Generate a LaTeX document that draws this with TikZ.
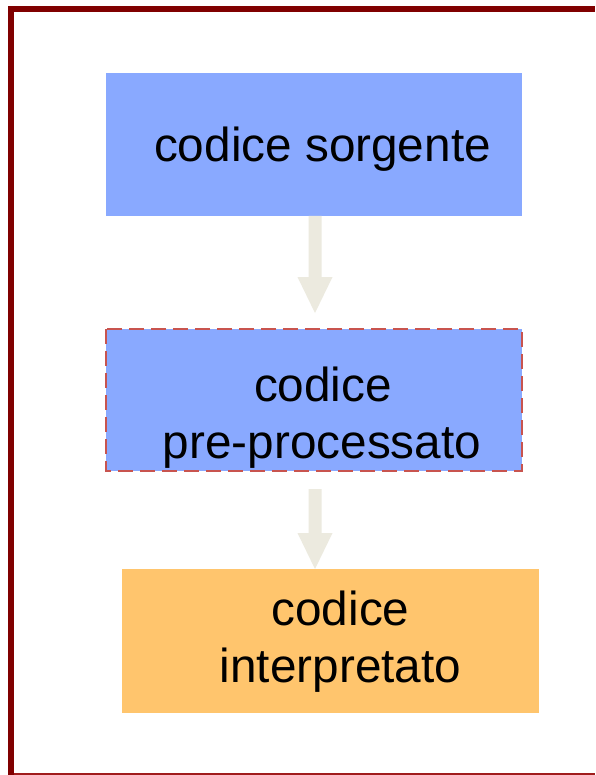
\documentclass[tikz,border=0pt]{standalone}
\usepackage{fontspec}
\setmainfont{Liberation Sans}
\definecolor{frame}{HTML}{800000}
\definecolor{frameb}{HTML}{A01C1C}
\definecolor{boxblue}{HTML}{89A9FF}
\definecolor{boxorange}{HTML}{FFC56D}
\definecolor{dashred}{HTML}{C8544F}
\definecolor{arrowfill}{HTML}{ECEADF}
\tikzset{
  lbl/.style={anchor=base, inner sep=0pt, font=\fontsize{47.7}{57}\selectfont, text=black},
  blockarrow/.style={fill=arrowfill, draw=none},
}
\begin{document}
\begin{tikzpicture}[x=1pt,y=-1pt]
\useasboundingbox (0,0) rectangle (595,775);
\fill[white] (0,0) rectangle (595,775);
% frame
\fill[frame] (8,6) rectangle (14,775);
\fill[frame] (8,6) rectangle (595,12);
\fill[frameb] (14,772.5) rectangle (595,774.5);
% boxes
\fill[boxblue] (106,73) rectangle (522,216);
\coordinate (b1top) at (314,216);
\fill[boxblue] (106,329) rectangle (522,471);
\draw[dashred, line width=2pt, dash pattern=on 15pt off 7pt] (106,329) rectangle (522,471);
\fill[boxorange] (122,569) rectangle (539,713);
% texts
\node[lbl] (t1) at (322.5,161.7) {codice sorgente};
\node[lbl] (t2a) at (323,401.5) {codice};
\node[lbl] (t2b) at (322,458.5) {pre-processato};
\node[lbl] (t3a) at (340.5,625) {codice};
\node[lbl] (t3b) at (340.5,682) {interpretato};
% arrows
\fill[blockarrow] (308.5,216) -- (321.5,216) -- (321.5,277) -- (332.5,277) -- (315,313) -- (297.5,277) -- (308.5,277) -- cycle;
\fill[blockarrow] (308.5,489) -- (321.5,489) -- (321.5,533) -- (332.5,533) -- (315,569) -- (297.5,533) -- (308.5,533) -- cycle;
\end{tikzpicture}
\end{document}
